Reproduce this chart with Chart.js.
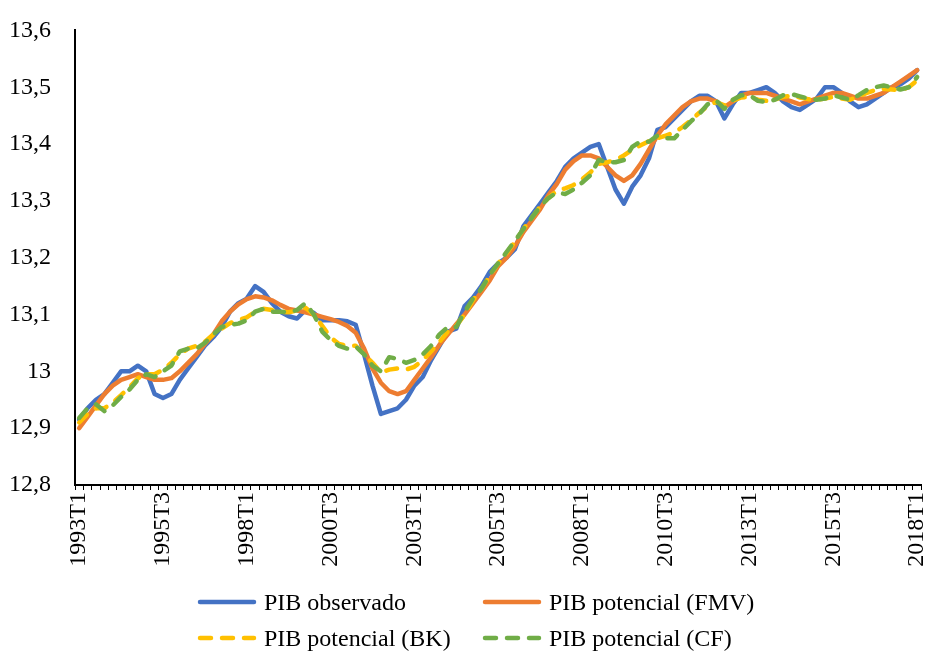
<!DOCTYPE html>
<html>
<head>
<meta charset="utf-8">
<script src="https://cdn.jsdelivr.net/npm/chart.js@4.4.1/dist/chart.umd.min.js"></script>
<style>
  html,body{margin:0;padding:0;background:#fff;overflow:hidden;}
  #wrap{position:relative;width:932px;height:657px;overflow:hidden;}
  #c{position:absolute;left:0;top:0;}
  .leg{position:absolute;font-family:'Liberation Serif','Times New Roman',serif;font-size:24px;color:#000;display:flex;align-items:center;white-space:nowrap;}
  .leg svg{margin-right:7px;}
</style>
</head>
<body>
<div id="wrap">
  <canvas id="c" width="948" height="657"></canvas>
  <div id="legend"></div>
</div>
<script>
// trimestres 1993T1 .. 2018T1
const quarters = [
  '1993T1','1993T2','1993T3','1993T4','1994T1','1994T2','1994T3','1994T4',
  '1995T1','1995T2','1995T3','1995T4','1996T1','1996T2','1996T3','1996T4',
  '1997T1','1997T2','1997T3','1997T4','1998T1','1998T2','1998T3','1998T4',
  '1999T1','1999T2','1999T3','1999T4','2000T1','2000T2','2000T3','2000T4',
  '2001T1','2001T2','2001T3','2001T4','2002T1','2002T2','2002T3','2002T4',
  '2003T1','2003T2','2003T3','2003T4','2004T1','2004T2','2004T3','2004T4',
  '2005T1','2005T2','2005T3','2005T4','2006T1','2006T2','2006T3','2006T4',
  '2007T1','2007T2','2007T3','2007T4','2008T1','2008T2','2008T3','2008T4',
  '2009T1','2009T2','2009T3','2009T4','2010T1','2010T2','2010T3','2010T4',
  '2011T1','2011T2','2011T3','2011T4','2012T1','2012T2','2012T3','2012T4',
  '2013T1','2013T2','2013T3','2013T4','2014T1','2014T2','2014T3','2014T4',
  '2015T1','2015T2','2015T3','2015T4','2016T1','2016T2','2016T3','2016T4',
  '2017T1','2017T2','2017T3','2017T4','2018T1'
];

const pibObservado = [
  12.915,12.935,12.95,12.96,12.98,13.0,13.0,13.01,13.0,12.96,
  12.953,12.96,12.985,13.005,13.025,13.045,13.06,13.078,13.105,13.12,
  13.128,13.15,13.14,13.12,13.105,13.097,13.093,13.108,13.103,13.09,
  13.09,13.09,13.088,13.082,13.03,12.975,12.925,12.93,12.935,12.95,
  12.975,12.99,13.02,13.045,13.07,13.075,13.115,13.13,13.15,13.175,
  13.19,13.2,13.215,13.255,13.275,13.295,13.315,13.335,13.36,13.375,
  13.385,13.395,13.4,13.36,13.32,13.295,13.325,13.345,13.375,13.425,
  13.43,13.445,13.46,13.475,13.485,13.485,13.475,13.445,13.47,13.49,
  13.49,13.495,13.5,13.49,13.475,13.465,13.46,13.47,13.48,13.5,
  13.5,13.49,13.475,13.465,13.47,13.48,13.49,13.5,13.505,13.515,
  13.53
];

const pibFMV = [
  12.9,12.92,12.94,12.96,12.975,12.985,12.99,12.995,12.99,12.985,
  12.985,12.988,13.0,13.015,13.03,13.048,13.065,13.088,13.105,13.118,
  13.127,13.132,13.13,13.125,13.117,13.11,13.107,13.104,13.1,13.096,
  13.092,13.087,13.08,13.068,13.04,13.005,12.98,12.965,12.96,12.965,
  12.985,13.005,13.025,13.047,13.065,13.083,13.1,13.12,13.14,13.16,
  13.185,13.2,13.22,13.245,13.265,13.285,13.31,13.33,13.355,13.37,
  13.38,13.38,13.375,13.36,13.345,13.335,13.345,13.365,13.39,13.415,
  13.435,13.45,13.465,13.475,13.48,13.48,13.475,13.465,13.475,13.485,
  13.49,13.49,13.49,13.485,13.48,13.475,13.47,13.475,13.48,13.485,
  13.49,13.49,13.485,13.48,13.48,13.485,13.49,13.5,13.51,13.52,
  13.53
];

const pibBK = [
  12.91,12.925,12.935,12.935,12.945,12.958,12.972,12.988,12.995,12.995,
  13.003,13.015,13.03,13.04,13.045,13.052,13.065,13.075,13.085,13.09,
  13.095,13.105,13.11,13.108,13.105,13.104,13.107,13.112,13.1,13.08,
  13.06,13.048,13.045,13.045,13.03,13.015,12.998,13.003,13.005,13.003,
  13.008,13.02,13.035,13.052,13.07,13.08,13.1,13.125,13.145,13.168,
  13.19,13.208,13.228,13.25,13.27,13.29,13.305,13.318,13.322,13.328,
  13.338,13.35,13.365,13.368,13.372,13.38,13.39,13.398,13.405,13.41,
  13.415,13.42,13.43,13.442,13.455,13.467,13.474,13.468,13.476,13.482,
  13.483,13.478,13.476,13.478,13.483,13.485,13.482,13.479,13.478,13.48,
  13.483,13.48,13.478,13.484,13.49,13.495,13.497,13.496,13.495,13.5,
  13.512
];

const pibCF = [
  12.918,12.935,12.942,12.93,12.94,12.955,12.968,12.985,12.995,12.99,
  13.0,13.01,13.035,13.04,13.04,13.05,13.065,13.078,13.082,13.084,
  13.09,13.105,13.11,13.105,13.105,13.104,13.108,13.12,13.1,13.07,
  13.055,13.045,13.04,13.044,13.03,13.01,13.0,13.025,13.022,13.015,
  13.02,13.03,13.045,13.065,13.078,13.078,13.105,13.128,13.145,13.17,
  13.19,13.21,13.23,13.25,13.27,13.29,13.305,13.315,13.312,13.32,
  13.332,13.345,13.372,13.368,13.368,13.372,13.395,13.405,13.404,13.415,
  13.41,13.41,13.425,13.44,13.453,13.47,13.477,13.462,13.478,13.486,
  13.486,13.476,13.474,13.478,13.486,13.488,13.484,13.48,13.478,13.48,
  13.486,13.482,13.478,13.486,13.495,13.5,13.503,13.5,13.496,13.5,
  13.518
];

const seriesNames = ['PIB observado','PIB potencial (FMV)','PIB potencial (BK)','PIB potencial (CF)'];
const seriesColors = ['#4472C4','#ED7D31','#FFC000','#70AD47'];
const yTicks = [12.8, 12.9, 13.0, 13.1, 13.2, 13.3, 13.4, 13.5, 13.6];
const labelEvery = 10;

const FONT = {family:"'Liberation Serif','Times New Roman',serif", size:24};
const dash = [11, 11];

function ds(i, data, dashed, ord){
  return {
    label: seriesNames[i], data,
    borderColor: seriesColors[i], backgroundColor: seriesColors[i],
    borderWidth: 4.5, pointRadius: 0, tension: 0,
    borderCapStyle: 'round', borderJoinStyle: 'round',
    borderDash: dashed ? dash : [], order: ord, fill: false
  };
}

new Chart(document.getElementById('c'), {
  type: 'line',
  data: {
    labels: quarters,
    datasets: [
      ds(0, pibObservado, false, 4),
      ds(1, pibFMV, false, 3),
      ds(2, pibBK, true, 2),
      ds(3, pibCF, true, 1)
    ]
  },
  options: {
    responsive: false, animation: false,
    layout: {padding: {top: 26, right: 9, left: 0, bottom: 0}},
    plugins: {legend: {display: false}, tooltip: {enabled: false}},
    scales: {
      x: {
        type: 'category', offset: true,
        grid: {display: true, drawOnChartArea: false, drawTicks: true, tickLength: 5,
               color: '#000', lineWidth: 1, offset: true},
        border: {display: true, color: '#000', width: 2},
        ticks: {
          autoSkip: false, maxRotation: 90, minRotation: 90, padding: 2,
          color: '#000', font: FONT,
          callback: (v, i) => i % labelEvery === 0 ? quarters[i] : ''
        },
        afterFit: s => { s.height = 172; }
      },
      y: {
        min: yTicks[0], max: yTicks[yTicks.length - 1],
        grid: {display: false},
        border: {display: true, color: '#000', width: 2},
        afterBuildTicks: s => { s.ticks = yTicks.map(v => ({value: v})); },
        ticks: {
          padding: 16, color: '#000', font: FONT,
          callback: v => String(Math.round(v * 10) / 10).replace('.', ',')
        },
        afterFit: s => { s.width = 75; }
      }
    }
  }
});

// leyenda 2x2
const legPos = [[197, 602], [482, 602], [197, 638], [482, 638]];
const legendEl = document.getElementById('legend');
seriesNames.forEach((name, i) => {
  const d = document.createElement('div');
  d.className = 'leg';
  d.style.left = legPos[i][0] + 'px';
  d.style.top = (legPos[i][1] - 15) + 'px';
  d.style.height = '30px';
  const da = i >= 2 ? `stroke-dasharray="11 11"` : '';
  d.innerHTML = `<svg width="60" height="10"><line x1="3" y1="5" x2="57" y2="5" stroke="${seriesColors[i]}" stroke-width="4.5" stroke-linecap="round" ${da}/></svg><span>${name}</span>`;
  legendEl.appendChild(d);
});
</script>
</body>
</html>
